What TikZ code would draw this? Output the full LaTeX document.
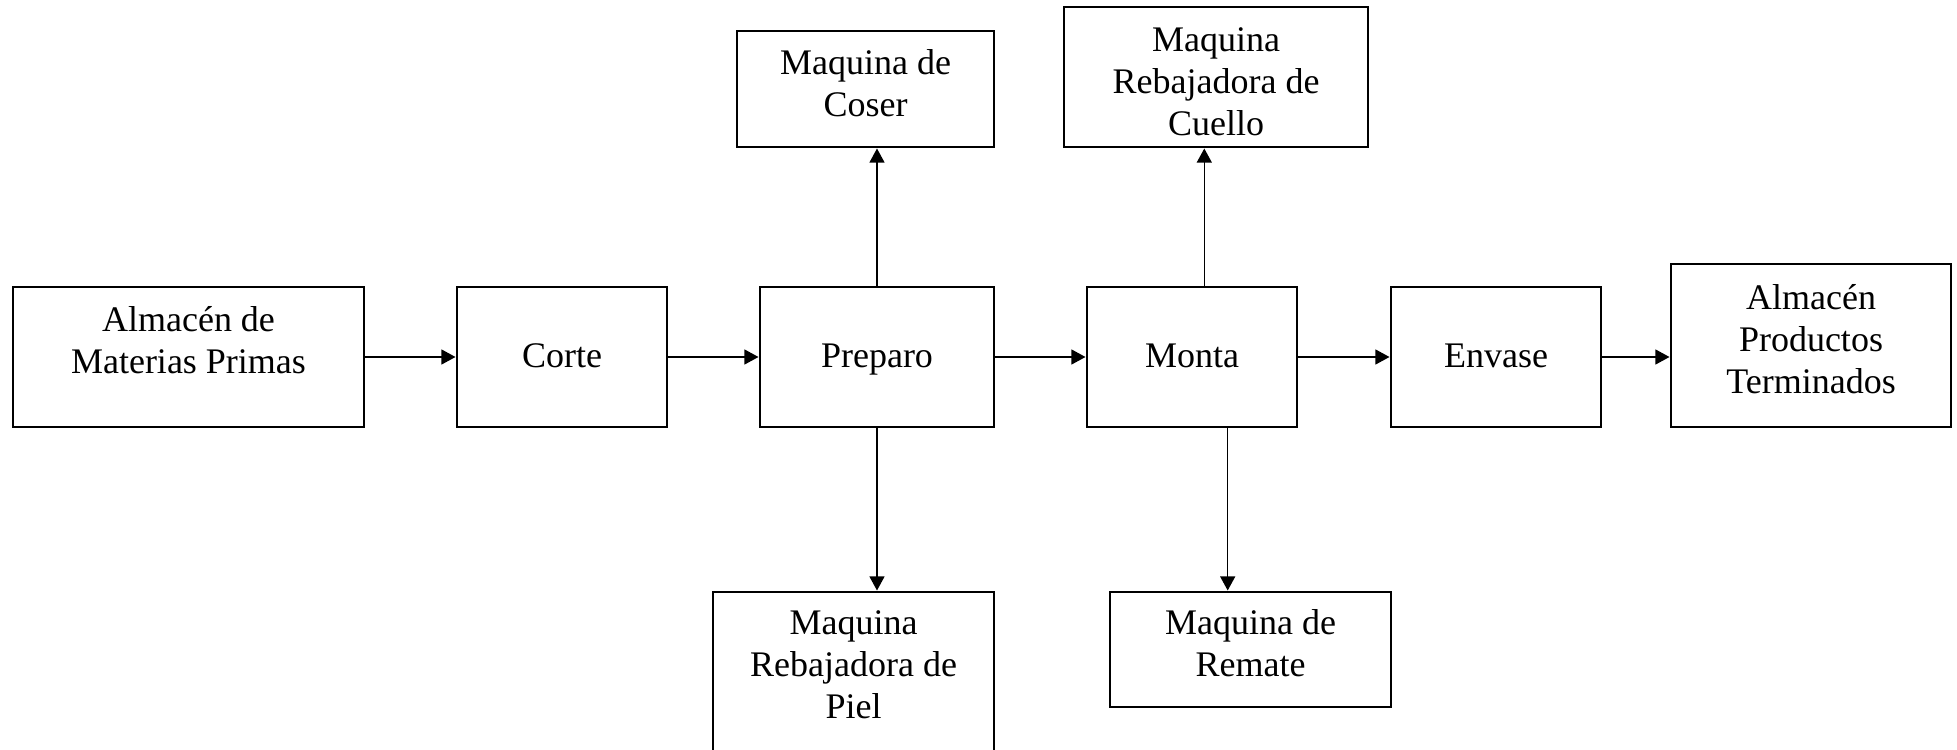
\documentclass[tikz,border=0pt]{standalone}
\usepackage{fontspec}
\setmainfont{Liberation Serif}
\usetikzlibrary{arrows.meta}
\newcommand\btx[4]{\parbox[c][#2][t]{#1}{\centering\rule{0pt}{#3}#4\par}}
\begin{document}
\begin{tikzpicture}[x=0.33333pt,y=-0.33333pt,
  box/.style={draw, line width=0.6pt, inner sep=0pt, font=\fontsize{12pt}{14pt}\selectfont},
  flow/.style={line width=0.45pt, -{Triangle[length=4.7pt,width=5pt]}, shorten >=0.2pt}]
\useasboundingbox (0,0) rectangle (1957,750);
% main row
\node[box] (amp)  at (188.5,357) {\btx{117pt}{46.67pt}{15pt}{Almacén de\\Materias Primas}};
\node[box] (corte) at (562,357)  {\btx{70pt}{46.67pt}{27pt}{Corte}};
\node[box] (prep)  at (877,357)  {\btx{78pt}{46.67pt}{27pt}{Preparo}};
\node[box] (monta) at (1192,357) {\btx{70pt}{46.67pt}{27pt}{Monta}};
\node[box] (env)   at (1496,357) {\btx{70pt}{46.67pt}{27pt}{Envase}};
\node[box] (apt)   at (1811,345.5) {\btx{93.33pt}{54.33pt}{15pt}{Almacén\\Productos\\Terminados}};
% upper machines
\node[box] (coser)  at (865.5,89) {\btx{85.67pt}{38.67pt}{14.5pt}{Maquina de\\Coser}};
\node[box] (cuello) at (1216,77)  {\btx{101.33pt}{46.67pt}{14.67pt}{Maquina\\Rebajadora de\\Cuello}};
% lower machines
\node[box] (piel)   at (853.5,678) {\btx{93.67pt}{57.33pt}{14pt}{Maquina\\Rebajadora de\\Piel}};
\node[box] (remate) at (1250.5,649.5) {\btx{93.67pt}{38.33pt}{14pt}{Maquina de\\Remate}};
% connectors
\draw[flow] (amp.east) -- (corte.west);
\draw[flow] (corte.east) -- (prep.west);
\draw[flow] (prep.east) -- (monta.west);
\draw[flow] (monta.east) -- (env.west);
\draw[flow] (env.east) -- (env.east -| apt.west);
\draw[flow] (prep.north) -- (prep.north |- coser.south);
\draw[flow] ([xshift=4.1pt]monta.north) -- ([xshift=4.1pt]monta.north |- cuello.south);
\draw[flow] (prep.south) -- (prep.south |- piel.north);
\draw[flow] ([xshift=11.9pt]monta.south) -- ([xshift=11.9pt]monta.south |- remate.north);
\end{tikzpicture}
\end{document}
